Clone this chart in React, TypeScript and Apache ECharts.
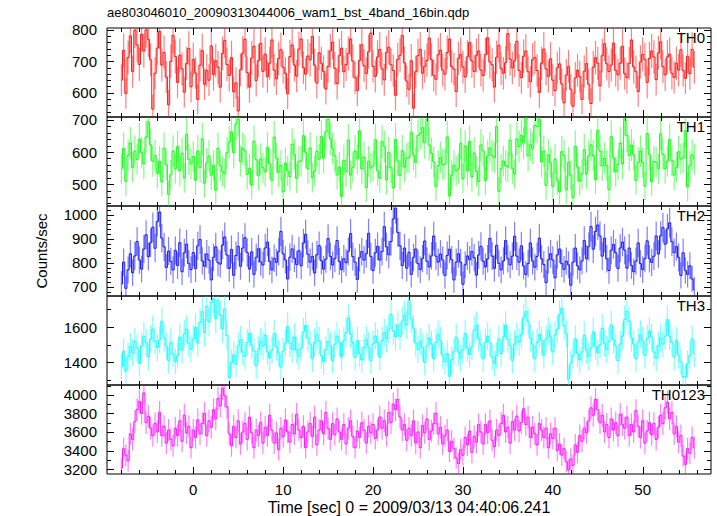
import React, { useEffect, useRef } from "react";
import * as echarts from "echarts";

// ---------------- data ----------------
const TITLE = "ae803046010_20090313044006_wam1_bst_4band_16bin.qdp";
const X_TITLE = "Time [sec] 0 = 2009/03/13 04:40:06.241";
const Y_TITLE = "Counts/sec";
const PANEL_NAMES = ["TH0", "TH1", "TH2", "TH3", "TH0123"];

// time bins: first bin centre and bin width (sec)
const T_START = -8;
const BIN = 0.25;

const TH0 = [
  640, 735, 598, 712, 781, 668, 799, 752, 690, 786, 733, 800, 770, 705, 548, 662,
  742, 795, 688, 728, 650, 562, 700, 782, 715, 633, 719, 676, 602, 693, 741, 619,
  706, 663, 579, 688, 734, 627, 671, 640, 749, 658, 702, 681, 618, 725, 766, 690,
  655, 712, 603, 631, 542, 673, 726, 770, 664, 618, 711, 748, 639, 702, 757, 668,
  723, 651, 694, 768, 672, 644, 709, 737, 681, 662, 597, 715, 752, 688, 653, 739,
  771, 680, 659, 717, 705, 779, 688, 631, 727, 694, 668, 612, 684, 733, 761, 678,
  629, 718, 742, 667, 690, 725, 771, 701, 648, 607, 703, 753, 686, 661, 730, 790,
  684, 652, 714, 738, 676, 641, 728, 745, 689, 671, 592, 706, 719, 782, 695, 637,
  611, 702, 551, 667, 718, 738, 662, 684, 703, 774, 705, 655, 643, 721, 736, 672,
  659, 728, 771, 683, 675, 604, 709, 722, 682, 650, 714, 760, 701, 668, 719, 733,
  672, 655, 721, 775, 698, 689, 618, 713, 751, 677, 662, 696, 788, 707, 679, 702,
  764, 671, 648, 716, 733, 667, 635, 705, 712, 671, 601, 694, 739, 676, 652, 708,
  640, 607, 679, 692, 628, 568, 656, 684, 611, 557, 647, 672, 651, 579, 668, 693,
  627, 566, 681, 712, 694, 622, 718, 756, 692, 668, 688, 758, 671, 657, 694, 748,
  661, 648, 693, 768, 682, 667, 604, 698, 722, 706, 633, 709, 733, 714, 642, 727,
  762, 683, 657, 714, 723, 662, 649, 694, 672, 737, 671, 646, 716, 661, 738, 681,
];

const TH1 = [
  548, 611, 509, 590, 628, 552, 603, 577, 640, 598, 563, 647, 694, 622, 571, 589,
  533, 571, 507, 612, 560, 468, 529, 603, 548, 617, 541, 596, 519, 655, 577, 563,
  586, 512, 604, 552, 641, 503, 566, 588, 528, 559, 481, 611, 557, 540, 532, 598,
  631, 663, 598, 688, 702, 571, 612, 604, 530, 549, 497, 633, 576, 526, 579, 551,
  538, 614, 563, 511, 646, 581, 537, 559, 476, 566, 541, 524, 624, 592, 518, 571,
  572, 651, 599, 548, 613, 520, 541, 602, 578, 648, 581, 663, 701, 641, 612, 588,
  529, 553, 461, 574, 538, 637, 528, 552, 603, 579, 666, 547, 584, 489, 571, 550,
  557, 638, 542, 518, 632, 617, 513, 598, 551, 488, 639, 572, 527, 604, 553, 581,
  583, 662, 591, 567, 651, 658, 676, 629, 703, 622, 596, 569, 492, 558, 583, 561,
  562, 647, 463, 528, 559, 541, 548, 627, 517, 619, 541, 633, 522, 597, 540, 508,
  622, 604, 511, 588, 613, 589, 582, 679, 478, 548, 572, 558, 553, 637, 549, 531,
  641, 617, 652, 628, 706, 588, 623, 611, 683, 679, 702, 569, 603, 496, 591, 566,
  493, 578, 512, 476, 601, 589, 482, 568, 528, 458, 618, 553, 509, 532, 607, 531,
  588, 622, 589, 514, 668, 603, 557, 581, 558, 483, 648, 582, 538, 561, 628, 563,
  704, 651, 589, 622, 591, 512, 568, 603, 567, 494, 658, 592, 507, 571, 568, 548,
  657, 593, 548, 571, 639, 573, 528, 552, 601, 578, 582, 667, 491, 557, 591, 578,
];

const TH2 = [
  712, 803, 694, 771, 838, 759, 829, 889, 812, 774, 858, 917, 826, 884, 948, 861,
  972, 1012, 903, 867, 781, 849, 806, 771, 852, 789, 884, 763, 842, 878, 797, 772,
  843, 776, 871, 897, 808, 786, 837, 812, 729, 823, 867, 801, 795, 874, 908, 833,
  777, 856, 748, 831, 869, 786, 862, 905, 843, 774, 846, 752, 823, 859, 804, 791,
  862, 887, 806, 771, 819, 802, 847, 931, 838, 812, 733, 824, 858, 819, 793, 851,
  788, 883, 919, 836, 803, 827, 758, 834, 872, 809, 774, 816, 901, 827, 791, 818,
  893, 806, 772, 817, 801, 848, 922, 826, 803, 731, 822, 847, 812, 838, 923, 827,
  768, 842, 869, 812, 847, 951, 867, 834, 889, 983, 1028, 927, 871, 789, 862, 778,
  844, 752, 823, 858, 797, 772, 818, 891, 807, 783, 829, 912, 828, 803, 837, 812,
  748, 831, 857, 813, 729, 803, 838, 802, 711, 792, 829, 813, 847, 822, 749, 833,
  869, 807, 783, 817, 902, 828, 777, 873, 798, 771, 808, 893, 817, 792, 828, 911,
  828, 803, 871, 787, 752, 797, 883, 808, 782, 827, 903, 817, 793, 718, 812, 838,
  812, 738, 833, 858, 797, 773, 807, 792, 707, 803, 862, 788, 771, 808, 893, 817,
  868, 951, 857, 931, 958, 912, 828, 903, 817, 768, 853, 877, 842, 777, 862, 887,
  853, 778, 862, 789, 763, 807, 883, 797, 772, 818, 892, 817, 802, 828, 912, 837,
  913, 947, 878, 942, 967, 888, 843, 868, 823, 748, 842, 768, 752, 788, 733, 688,
];

const TH3 = [
  1372, 1461, 1348, 1433, 1489, 1452, 1518, 1481, 1392, 1493, 1547, 1512, 1428, 1531, 1588, 1519,
  1483, 1527, 1633, 1538, 1492, 1408, 1513, 1447, 1402, 1437, 1542, 1468, 1561, 1589, 1507, 1473,
  1532, 1598, 1508, 1627, 1688, 1567, 1719, 1628, 1741, 1762, 1647, 1753, 1668, 1589, 1703, 1552,
  1312, 1397, 1441, 1388, 1492, 1528, 1458, 1433, 1512, 1563, 1497, 1462, 1378, 1473, 1518, 1491,
  1553, 1458, 1423, 1467, 1562, 1487, 1452, 1371, 1462, 1508, 1603, 1507, 1472, 1543, 1468, 1433,
  1477, 1572, 1608, 1538, 1503, 1418, 1512, 1558, 1522, 1437, 1402, 1471, 1518, 1493, 1407, 1502,
  1548, 1513, 1428, 1522, 1568, 1653, 1558, 1512, 1427, 1523, 1448, 1412, 1483, 1528, 1492, 1408,
  1503, 1548, 1512, 1427, 1523, 1568, 1532, 1588, 1672, 1578, 1543, 1612, 1547, 1633, 1668, 1612,
  1752, 1647, 1593, 1508, 1472, 1518, 1483, 1398, 1492, 1538, 1503, 1418, 1512, 1558, 1523, 1437,
  1402, 1448, 1318, 1413, 1458, 1543, 1457, 1422, 1468, 1563, 1478, 1443, 1488, 1582, 1608, 1537,
  1502, 1418, 1512, 1548, 1513, 1428, 1392, 1437, 1532, 1448, 1543, 1612, 1528, 1493, 1408, 1503,
  1548, 1513, 1558, 1653, 1688, 1632, 1537, 1502, 1418, 1512, 1558, 1523, 1438, 1532, 1578, 1543,
  1458, 1553, 1588, 1672, 1708, 1607, 1562, 1302, 1393, 1437, 1533, 1448, 1412, 1458, 1553, 1467,
  1432, 1478, 1573, 1488, 1453, 1498, 1593, 1507, 1472, 1518, 1612, 1527, 1492, 1408, 1503, 1548,
  1643, 1688, 1633, 1537, 1502, 1418, 1513, 1558, 1522, 1437, 1533, 1578, 1543, 1457, 1422, 1493,
  1538, 1503, 1548, 1642, 1547, 1512, 1428, 1522, 1437, 1402, 1318, 1312, 1393, 1438, 1532, 1448,
];

const TH0123 = [
  3210, 3420, 3350, 3290, 3580, 3520, 3710, 3840, 3930, 3800, 4020, 3700, 3770, 3640, 3560, 3690,
  3600, 3810, 3560, 3660, 3480, 3620, 3520, 3450, 3640, 3560, 3720, 3500, 3780, 3590, 3660, 3430,
  3620, 3540, 3730, 3580, 3690, 3800, 3560, 3720, 3650, 3840, 3740, 3960, 3880, 4070, 3990, 3870,
  3580, 3450, 3660, 3540, 3720, 3470, 3600, 3690, 3520, 3760, 3590, 3430, 3620, 3560, 3700, 3480,
  3650, 3560, 3780, 3620, 3480, 3590, 3410, 3640, 3550, 3730, 3600, 3490, 3680, 3580, 3790, 3620,
  3540, 3660, 3430, 3600, 3690, 3550, 3760, 3460, 3620, 3720, 3580, 3810, 3640, 3520, 3690, 3570,
  3740, 3600, 3520, 3680, 3470, 3640, 3720, 3550, 3430, 3610, 3540, 3700, 3620, 3480, 3660, 3590,
  3680, 3530, 3620, 3760, 3640, 3720, 3560, 3810, 3700, 3900, 3840, 3950, 3760, 3620, 3680, 3510,
  3640, 3560, 3720, 3480, 3600, 3430, 3670, 3590, 3740, 3520, 3610, 3690, 3800, 3580, 3650, 3470,
  3560, 3620, 3390, 3500, 3420, 3320, 3260, 3410, 3350, 3540, 3460, 3610, 3380, 3550, 3490, 3680,
  3600, 3470, 3680, 3590, 3720, 3510, 3440, 3620, 3560, 3690, 3780, 3600, 3650, 3480, 3710, 3620,
  3770, 3610, 3700, 3850, 3680, 3760, 3540, 3650, 3580, 3460, 3690, 3620, 3540, 3640, 3430, 3580,
  3530, 3640, 3400, 3470, 3350, 3420, 3280, 3190, 3310, 3240, 3460, 3380, 3560, 3500, 3640, 3590,
  3720, 3860, 3780, 3950, 3840, 3700, 3780, 3600, 3680, 3540, 3740, 3620, 3700, 3560, 3790, 3680,
  3640, 3760, 3560, 3680, 3600, 3830, 3660, 3540, 3720, 3480, 3610, 3700, 3570, 3690, 3520, 3650,
  3780, 3690, 3860, 3920, 3740, 3810, 3580, 3660, 3490, 3560, 3340, 3250, 3420, 3370, 3540, 3430,
];

const SERIES = [TH0, TH1, TH2, TH3, TH0123];

// axis ranges and tick labels
const X_MIN = -9.6;
const X_MAX = 57.6;
const X_LABELS = [0, 10, 20, 30, 40, 50];
const X_MINOR_STEP = 2;
const Y_MIN = [523, 432, 662, 1269, 3147];
const Y_MAX = [806, 709, 1037, 1777, 4106];
const Y_LABELS = [
  [600, 700, 800],
  [500, 600, 700],
  [700, 800, 900, 1000],
  [1400, 1600],
  [3200, 3400, 3600, 3800, 4000],
];
const Y_MINOR_STEP = [20, 20, 20, 100, 100];

// ---------------- style / layout ----------------
const COLORS = ["#ff0000", "#00ff00", "#0000ff", "#00ffff", "#ff00ff"];
const FONT = "'Liberation Sans', Arial, Helvetica, sans-serif";
const GRID_LEFT = 107;
const GRID_RIGHT = 6;
const GRID_TOP = [28, 117, 206, 296, 385];
const GRID_H = [89, 89, 90, 89, 89];
const MAJOR_LEN = 7;
const MINOR_LEN = 4;

function stepsBetween(lo: number, hi: number, step: number): number[] {
  const out: number[] = [];
  let v = Math.ceil(lo / step) * step;
  while (v <= hi + 1e-9) {
    out.push(v);
    v += step;
  }
  return out;
}

function buildOption() {
  const grid: any[] = [];
  const xAxis: any[] = [];
  const yAxis: any[] = [];
  const series: any[] = [];
  const graphic: any[] = [];

  SERIES.forEach((vals, i) => {
    grid.push({
      left: GRID_LEFT,
      right: GRID_RIGHT,
      top: GRID_TOP[i],
      height: GRID_H[i],
      show: true,
      borderColor: "#000",
      borderWidth: 1,
      backgroundColor: "transparent",
    });
    xAxis.push({
      gridIndex: i,
      type: "value",
      min: X_MIN,
      max: X_MAX,
      axisLine: { show: false },
      axisTick: { show: false },
      splitLine: { show: false },
      axisLabel: {
        show: i === SERIES.length - 1,
        customValues: X_LABELS,
        formatter: (v: number) => String(v),
        color: "#000",
        fontSize: 15,
        fontFamily: FONT,
        margin: 8,
      },
    });
    yAxis.push({
      gridIndex: i,
      type: "value",
      min: Y_MIN[i],
      max: Y_MAX[i],
      axisLine: { show: false },
      axisTick: { show: false },
      splitLine: { show: false },
      axisLabel: {
        customValues: Y_LABELS[i],
        formatter: (v: number) => String(v),
        color: "#000",
        fontSize: 15,
        fontFamily: FONT,
        margin: 10,
      },
    });

    const pts = vals.map((v, k) => [T_START + k * BIN, v, Math.sqrt(v / BIN)]);
    const color = COLORS[i];

    series.push({
      type: "custom",
      xAxisIndex: i,
      yAxisIndex: i,
      clip: true,
      silent: true,
      data: pts,
      encode: { x: 0, y: 1 },
      renderItem: (_p: any, api: any) => {
        const t = api.value(0);
        const v = api.value(1);
        const e = api.value(2);
        const a = api.coord([t, v - e]);
        const b = api.coord([t, v + e]);
        return {
          type: "line",
          shape: { x1: a[0], y1: a[1], x2: b[0], y2: b[1] },
          style: { stroke: color, lineWidth: 1.2, opacity: 0.5 },
        };
      },
    });
    series.push({
      type: "line",
      xAxisIndex: i,
      yAxisIndex: i,
      step: "middle",
      showSymbol: false,
      symbol: "none",
      clip: true,
      silent: true,
      data: pts.map((p) => [p[0], p[1]]),
      lineStyle: { color, width: 1, opacity: 0.9 },
    });

    const xMajor = X_LABELS;
    const xMinor = stepsBetween(X_MIN, X_MAX, X_MINOR_STEP).filter((v) => !xMajor.includes(v));
    const yMajor = Y_LABELS[i];
    const yMinor = stepsBetween(Y_MIN[i], Y_MAX[i], Y_MINOR_STEP[i]).filter((v) => !yMajor.includes(v));
    const y0 = Y_MIN[i];
    const y1 = Y_MAX[i];
    series.push({
      type: "custom",
      xAxisIndex: i,
      yAxisIndex: i,
      clip: false,
      silent: true,
      data: [[0, (y0 + y1) / 2]],
      renderItem: (_p: any, api: any) => {
        const bl = api.coord([X_MIN, y0]);
        const tr = api.coord([X_MAX, y1]);
        const children: any[] = [];
        const st = { stroke: "#000", lineWidth: 1 };
        const addX = (v: number, len: number) => {
          const px = Math.round(api.coord([v, y0])[0]) + 0.5;
          children.push({ type: "line", shape: { x1: px, y1: bl[1], x2: px, y2: bl[1] - len }, style: st });
          children.push({ type: "line", shape: { x1: px, y1: tr[1], x2: px, y2: tr[1] + len }, style: st });
        };
        const addY = (v: number, len: number) => {
          const py = Math.round(api.coord([X_MIN, v])[1]) + 0.5;
          children.push({ type: "line", shape: { x1: bl[0], y1: py, x2: bl[0] + len, y2: py }, style: st });
          children.push({ type: "line", shape: { x1: tr[0], y1: py, x2: tr[0] - len, y2: py }, style: st });
        };
        xMajor.forEach((v) => addX(v, MAJOR_LEN));
        xMinor.forEach((v) => addX(v, MINOR_LEN));
        yMajor.forEach((v) => addY(v, MAJOR_LEN));
        yMinor.forEach((v) => addY(v, MINOR_LEN));
        return { type: "group", children };
      },
    });

    graphic.push({
      type: "text",
      right: GRID_RIGHT + 6,
      top: GRID_TOP[i] + 2,
      style: { text: PANEL_NAMES[i], fill: "#000", font: `15px ${FONT}` },
    });
  });

  graphic.push({
    type: "text",
    left: GRID_LEFT,
    top: 6,
    style: { text: TITLE, fill: "#000", font: `13px ${FONT}` },
  });
  graphic.push({
    type: "text",
    x: 409,
    y: 507,
    style: { text: X_TITLE, fill: "#000", font: `16px ${FONT}`, align: "center", verticalAlign: "middle" },
  });
  graphic.push({
    type: "text",
    x: 41,
    y: 251,
    rotation: Math.PI / 2,
    style: { text: Y_TITLE, fill: "#000", font: `15px ${FONT}`, align: "center", verticalAlign: "middle" },
  });

  return { animation: false, backgroundColor: "#fff", grid, xAxis, yAxis, series, graphic };
}

export default function App() {
  const ref = useRef<HTMLDivElement>(null);
  useEffect(() => {
    if (!ref.current) return;
    const chart = echarts.init(ref.current, undefined, { renderer: "svg" });
    chart.setOption(buildOption() as any);
    return () => chart.dispose();
  }, []);
  return (
    <div
      ref={ref}
      style={{ position: "fixed", left: 0, top: 0, width: 717, height: 516, background: "#fff" }}
    />
  );
}
